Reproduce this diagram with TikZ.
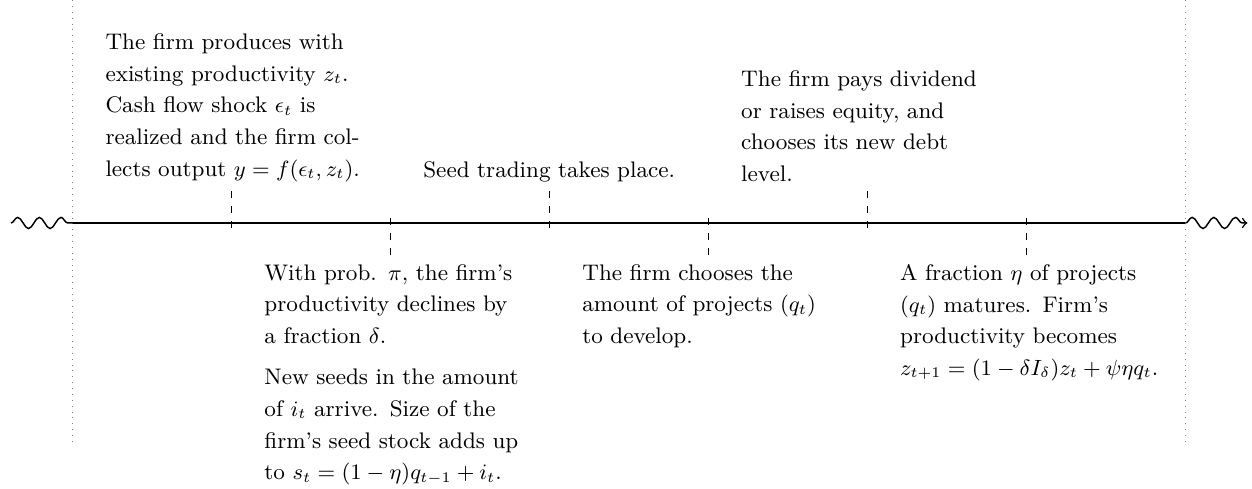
\documentclass[tikz,border=0pt]{standalone}
\usepackage{tikz}
\usetikzlibrary{positioning,decorations.pathmorphing}

\begin{document}
\begin{tikzpicture}[x=2.28cm, y=1cm,
    event/.style={
            % text block next to a date
            text width=4cm, align=left, inner xsep=0pt, inner ysep=3.3pt,
            font=\fontsize{9.2}{12.9}\selectfont},
    wave/.style={semithick, decorate,
            decoration={snake, amplitude=.08cm, segment length=.31cm}},
    tickmark/.style={dashed, thin}]
    \useasboundingbox (-0.459,-3.816) rectangle (7.419,3.199);

    % start and end of the period
    \foreach \x in {0,7}{
      \draw [dotted, gray] (\x,3.199) -- (\x,-3.185);
    }

    % time line
    \draw [wave] (-0.39,0) -- (0,0);
    \draw [thick] (0,0) -- (7,0);
    \draw [wave, ->] (7,0) -- (7.39,0);

    \foreach \x in {1,3,5}{
      \draw [tickmark] (\x,-0.07) -- (\x,0.47) coordinate (top\x);
    }
    \foreach \x in {2,4,6}{
      \draw [tickmark] (\x,0.07) -- (\x,-0.47) coordinate (bot\x);
    }

    \node [event, anchor=south west, xshift=-1.82cm] (produce) at (top1) {The firm produces with\\
      existing productivity $z_t$.\\
      Cash flow shock $\epsilon_t$ is\\
      realized and the firm col-\\
      lects output $y=f(\epsilon_t,z_t)$.};
    \node [event, anchor=north west, xshift=-1.82cm] (shock) at (bot2) {With prob. $\pi$, the firm's\\
      productivity declines by\\
      a fraction $\delta$.\\[4pt]
      New seeds in the amount\\
      of $i_t$ arrive. Size of the\\
      firm's seed stock adds up\\
      to $s_t=(1-\eta)q_{t-1}+i_t$.};
    \node [event, anchor=south west, xshift=-1.82cm] (trade) at (top3) {Seed trading takes place.};
    \node [event, anchor=north west, xshift=-1.82cm] (develop) at (bot4) {The firm chooses the\\
      amount of projects $(q_t)$\\
      to develop.};
    \node [event, anchor=south west, xshift=-1.82cm] (finance) at (top5) {The firm pays dividend\\
      or raises equity, and\\
      chooses its new debt\\
      level.};
    \node [event, anchor=north west, xshift=-1.82cm] (mature) at (bot6) {A fraction $\eta$ of projects\\
      $(q_t)$ matures. Firm's\\
      productivity becomes\\
      $z_{t+1}=(1-\delta I_\delta)z_t+\psi\eta q_t$.};
\end{tikzpicture}
\end{document}
